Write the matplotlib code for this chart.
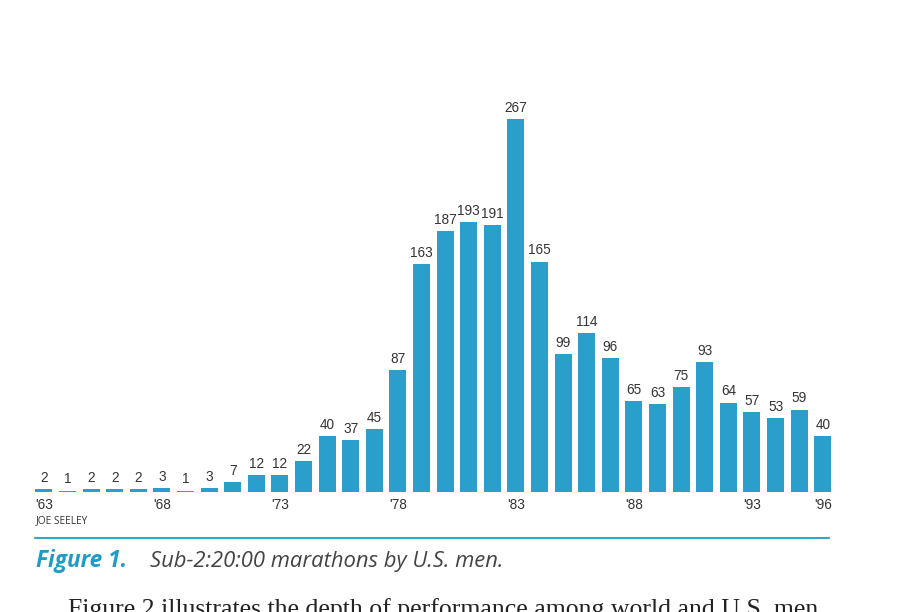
import matplotlib

matplotlib.use("Agg")

import matplotlib.pyplot as plt  # noqa: E402

# Sub-2:20:00 marathons by U.S. men, 1963-1996
YEARS = list(range(1963, 1997))
COUNTS = [2, 1, 2, 2, 2, 3, 1, 3, 7, 12, 12, 22, 40, 37, 45, 87, 163, 187,
          193, 191, 267, 165, 99, 114, 96, 65, 63, 75, 93, 64, 57, 53, 59, 40]
TICK_YEARS = [1963, 1968, 1973, 1978, 1983, 1988, 1993, 1996]

BAR_COLOR = "#2a9fcc"
TEAL = "#1f9cc6"
TEXT = "#333333"

W, H = 917, 612
fig = plt.figure(figsize=(W / 100, H / 100), dpi=100)
fig.patch.set_facecolor("white")

# axes placed so bar centres fall where the reference has them
ax = fig.add_axes([31 / W, 120 / H, 805 / W, 419 / H])
ax.set_xlim(-0.55, 33.56)
ax.set_ylim(0, 300)
ax.axis("off")

x = list(range(len(YEARS)))
ax.bar(x, COUNTS, width=0.72, color=BAR_COLOR, linewidth=0)

for xi, v in zip(x, COUNTS):
    ax.annotate(str(v), (xi, v), xytext=(0, 3), textcoords="offset points",
                ha="center", va="bottom", fontsize=9.8, color=TEXT,
                family="Liberation Sans")

for yr in TICK_YEARS:
    ax.annotate(f"'{yr % 100:02d}", (YEARS.index(yr), 0), xytext=(0, -4),
                textcoords="offset points", ha="center", va="top",
                fontsize=9.8, color=TEXT, family="Liberation Sans")

fig.text(36 / W, 1 - 521 / H, "JOE SEELEY", fontsize=7.3, color=TEXT,
         va="center", family="Open Sans")

fig.add_artist(plt.Line2D([35 / W, 829 / W], [1 - 538 / H, 1 - 538 / H],
                          color=TEAL, linewidth=1.3))

fig.text(36 / W, 1 - 561 / H, "Figure 1.", fontsize=16.3, color=TEAL,
         fontweight="bold", style="italic", va="center", family="Open Sans")
fig.text(150 / W, 1 - 561 / H, "Sub-2:20:00 marathons by U.S. men.",
         fontsize=15.8, color="#444444", style="italic", va="center",
         family="Open Sans")

# body text of the page, cut off by the lower edge as in the original scan
fig.text(68 / W, 1 - 598 / H,
         "Figure 2 illustrates the depth of performance among world and U.S. men",
         fontsize=18.5, color="#222222", va="top", family="Liberation Serif")

fig.savefig("out.png", dpi=100)
